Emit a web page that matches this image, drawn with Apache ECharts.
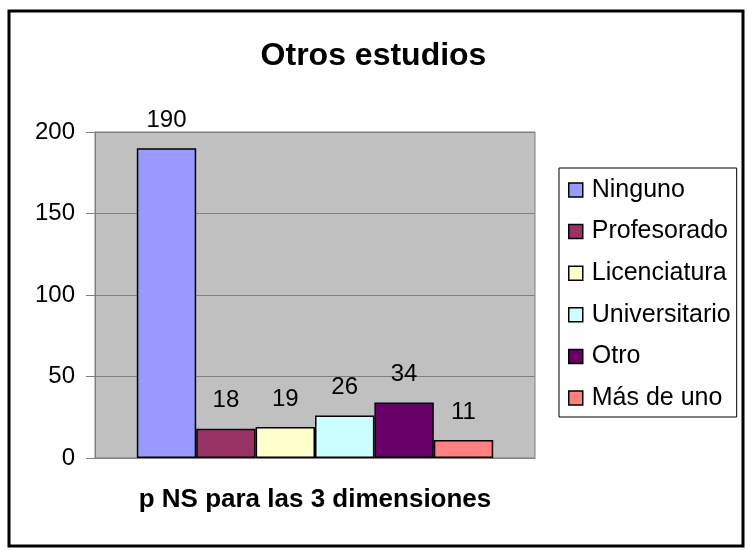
<!DOCTYPE html>
<html>
<head>
<meta charset="utf-8">
<script src="https://cdn.jsdelivr.net/npm/echarts@6/dist/echarts.min.js"></script>
<style>
  html, body { margin: 0; padding: 0; background: #fff; }
  #main { width: 747px; height: 551px; }
</style>
</head>
<body>
<div id="main"></div>
<script>
// datos del grafico
const seriesNames = ['Ninguno', 'Profesorado', 'Licenciatura', 'Universitario', 'Otro', 'Más de uno'];
const seriesValues = [190, 18, 19, 26, 34, 11];
const seriesColors = ['#9999FF', '#993366', '#FFFFCC', '#CCFFFF', '#660066', '#FF8080'];
const categories = ['p NS'];
const yTicks = [0, 50, 100, 150, 200];

const font = '"Liberation Sans", Arial, sans-serif';

let myChart = echarts.init(document.getElementById('main'));

let series = seriesNames.map(function (name, i) {
  return {
    name: name,
    type: 'bar',
    barGap: '0%',
    barCategoryGap: '19%',
    itemStyle: { color: seriesColors[i], borderColor: '#000', borderWidth: 1.5 },
    label: {
      show: true,
      position: 'top',
      distance: 16,
      fontSize: 24,
      fontFamily: font,
      color: '#000'
    },
    data: [seriesValues[i]]
  };
});

let option = {
  backgroundColor: '#fff',
  animation: false,
  title: {
    text: 'Otros estudios',
    left: 'center',
    top: 35,
    textStyle: { fontSize: 32, fontWeight: 'bold', fontFamily: font, color: '#000' }
  },
  legend: {
    orient: 'vertical',
    left: 559,
    top: 168,
    data: seriesNames,
    icon: 'rect',
    itemWidth: 14,
    itemHeight: 14,
    itemGap: 16.6,
    borderColor: '#000',
    borderWidth: 1,
    padding: [9.5, 6, 6.5, 9],
    itemStyle: { borderColor: '#000', borderWidth: 1.5 },
    textStyle: { fontSize: 25, lineHeight: 25, fontFamily: font, color: '#000', padding: [0, 0, 0, 4] }
  },
  grid: {
    left: 95,
    top: 132,
    right: 212,
    bottom: 93,
    show: true,
    backgroundColor: '#C0C0C0',
    borderColor: '#808080',
    borderWidth: 1
  },
  xAxis: {
    type: 'category',
    data: categories,
    name: 'p NS para las 3 dimensiones',
    nameLocation: 'middle',
    nameGap: 29,
    nameTextStyle: { fontSize: 26, fontWeight: 'bold', fontFamily: font, color: '#000' },
    axisLabel: { show: false },
    axisTick: { show: false },
    axisLine: { lineStyle: { color: '#808080', width: 1 } }
  },
  yAxis: {
    type: 'value',
    min: yTicks[0],
    max: yTicks[yTicks.length - 1],
    interval: 50,
    axisLine: { show: true, lineStyle: { color: '#808080', width: 1 } },
    axisTick: { show: true, length: 9, lineStyle: { color: '#808080' } },
    axisLabel: { margin: 20, fontSize: 24, fontFamily: font, color: '#000' },
    splitLine: { lineStyle: { color: '#808080', width: 1 } }
  },
  graphic: [{
    type: 'rect',
    shape: { x: 9, y: 11, width: 734, height: 535 },
    style: { fill: 'none', stroke: '#000', lineWidth: 3 },
    silent: true
  }],
  series: series
};

myChart.setOption(option);
</script>
</body>
</html>
